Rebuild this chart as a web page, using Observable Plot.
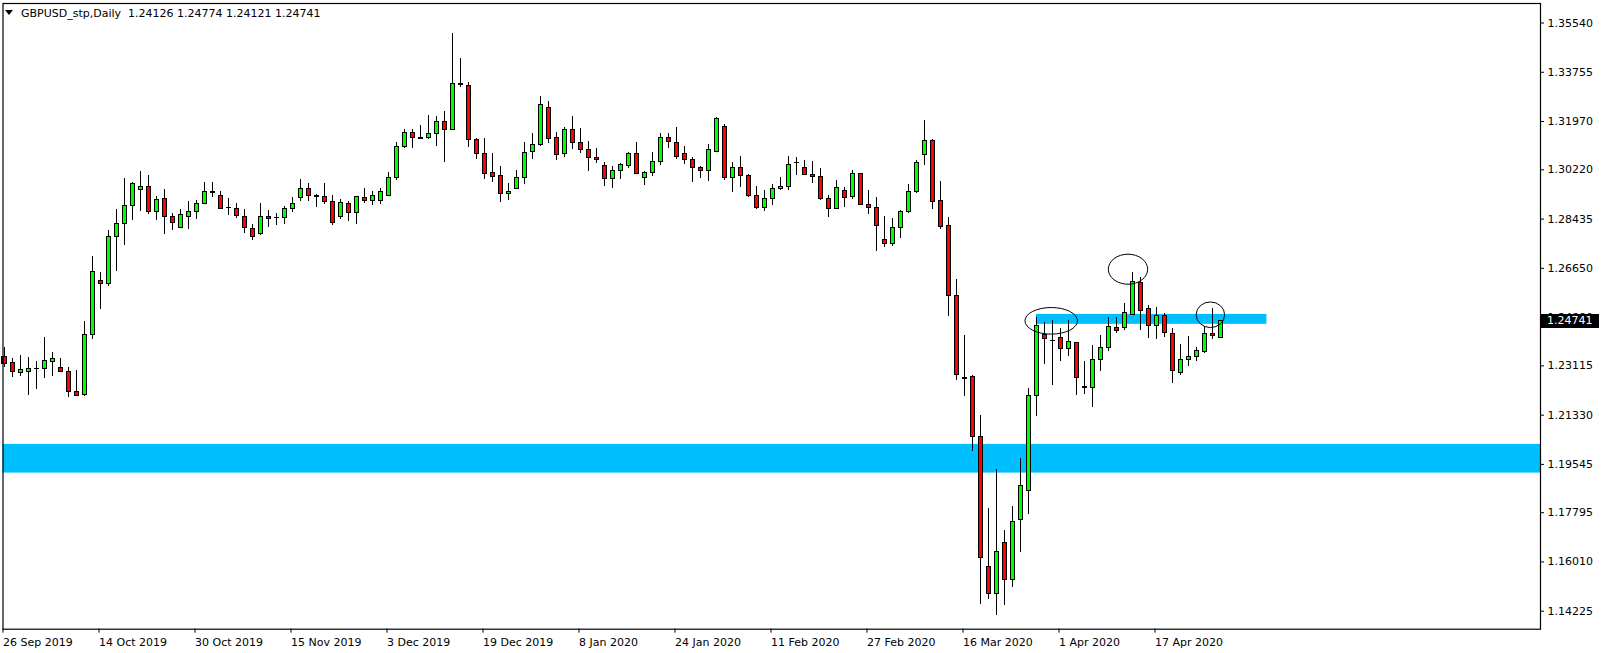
<!DOCTYPE html>
<html><head><meta charset="utf-8">
<script src="https://cdn.jsdelivr.net/npm/d3@7"></script>
<script src="https://cdn.jsdelivr.net/npm/@observablehq/plot@0.6"></script>
<style>html,body{margin:0;padding:0;background:#fff;overflow:hidden}#chart svg{display:block}</style>
</head><body><div id="chart"></div>
<script>
const symbolName = "GBPUSD_stp,Daily";
const lastQuote = [1.24126, 1.24774, 1.24121, 1.24741];

const open = [
1.2343,1.2323,1.2285,1.2290,1.2300,1.2301,1.2326,1.2305,1.2290,1.2218,
1.2205,1.2423,1.2620,1.2609,1.2779,1.2826,1.2892,1.2950,1.2960,1.2870,
1.2917,1.2852,1.2811,1.2852,1.2870,1.2899,1.2939,1.2928,1.2882,1.2881,
1.2852,1.2808,1.2789,1.2852,1.2846,1.2848,1.2879,1.2921,1.2953,1.2926,
1.2924,1.2906,1.2852,1.2899,1.2866,1.2921,1.2909,1.2908,1.2926,1.2992,
1.3104,1.3156,1.3136,1.3138,1.3152,1.3196,1.3167,1.3332,1.3326,1.3131,
1.3080,1.3011,1.3000,1.2935,1.2953,1.2993,1.3087,1.3113,1.3247,1.3138,
1.3080,1.3167,1.3120,1.3095,1.3066,1.3037,1.2989,1.3018,1.3037,1.3080,
1.2993,1.3011,1.3051,1.3138,1.3120,1.3080,1.3058,1.3029,1.3018,1.3087,
1.3178,1.2993,1.3029,1.3000,1.2928,1.2884,1.2917,1.2953,1.2960,1.3045,
1.3029,1.3004,1.2997,1.2917,1.2881,1.2946,1.2924,1.3008,1.2895,1.2884,
1.2768,1.2754,1.2812,1.2870,1.2942,1.3076,1.3127,1.2910,1.2819,1.2565,
1.2265,1.2272,1.2053,1.1583,1.1484,1.1671,1.1535,1.1752,1.1859,1.2203,
1.2425,1.2401,1.2413,1.2373,1.2395,1.2232,1.2232,1.2333,1.2377,1.2450,
1.2450,1.2497,1.2613,1.2518,1.2457,1.2493,1.2428,1.2286,1.2333,1.2344,
1.2362,1.2428,1.24126];

const high = [
1.2379,1.2337,1.2349,1.2341,1.2327,1.2413,1.2359,1.2337,1.2305,1.2295,
1.2472,1.2708,1.2649,1.2802,1.2878,1.2989,1.2977,1.3016,1.3001,1.2925,
1.2951,1.2863,1.2878,1.2907,1.2911,1.2976,1.2976,1.2942,1.2917,1.2899,
1.2877,1.2823,1.2900,1.2873,1.2863,1.2888,1.2921,1.2987,1.2972,1.2931,
1.2972,1.2928,1.2913,1.2906,1.2926,1.2953,1.2943,1.2955,1.3012,1.3121,
1.3168,1.3168,1.3183,1.3219,1.3215,1.3233,1.3516,1.3425,1.3337,1.3134,
1.3134,1.3081,1.3033,1.2971,1.3018,1.3120,1.3154,1.3288,1.3268,1.3158,
1.3174,1.3215,1.3172,1.3124,1.3098,1.3047,1.3033,1.3044,1.3084,1.3120,
1.3015,1.3084,1.3152,1.3152,1.3174,1.3105,1.3066,1.3033,1.3113,1.3210,
1.3185,1.3047,1.3069,1.3004,1.2961,1.2947,1.2968,1.2994,1.3069,1.3066,
1.3055,1.3051,1.3026,1.2928,1.2982,1.2957,1.3018,1.3009,1.2946,1.2921,
1.2852,1.2844,1.2873,1.2968,1.3055,1.3200,1.3131,1.2979,1.2848,1.2625,
1.2422,1.2278,1.2132,1.1795,1.1936,1.1715,1.1802,1.1977,1.2231,1.2488,
1.2467,1.2475,1.2446,1.2475,1.2396,1.2326,1.2384,1.2420,1.2486,1.2486,
1.2536,1.2649,1.2631,1.2529,1.2522,1.2500,1.2446,1.2388,1.2417,1.2377,
1.2453,1.2518,1.24774];

const low = [
1.2305,1.2270,1.2274,1.2204,1.2226,1.2265,1.2274,1.2286,1.2196,1.2199,
1.2202,1.2408,1.2516,1.2600,1.2653,1.2748,1.2838,1.2871,1.2860,1.2838,
1.2788,1.2802,1.2809,1.2807,1.2843,1.2895,1.2923,1.2877,1.2858,1.2847,
1.2792,1.2767,1.2785,1.2814,1.2821,1.2825,1.2868,1.2908,1.2908,1.2886,
1.2895,1.2821,1.2841,1.2836,1.2825,1.2899,1.2891,1.2897,1.2924,1.2982,
1.3100,1.3100,1.3133,1.3132,1.3108,1.3050,1.3165,1.3321,1.3102,1.3059,
1.2988,1.2977,1.2905,1.2910,1.2952,1.2968,1.3060,1.3105,1.3116,1.3055,
1.3065,1.3095,1.3080,1.3015,1.3044,1.2960,1.2955,1.2986,1.3026,1.3007,
1.2964,1.2997,1.3037,1.3098,1.3058,1.3040,1.2975,1.2989,1.2979,1.3084,
1.2982,1.2941,1.2957,1.2921,1.2880,1.2872,1.2894,1.2946,1.2946,1.3000,
1.3000,1.2971,1.2910,1.2848,1.2877,1.2886,1.2913,1.2894,1.2861,1.2725,
1.2739,1.2743,1.2772,1.2863,1.2935,1.3037,1.2879,1.2805,1.2492,1.2259,
1.2202,1.2002,1.1447,1.1466,1.1407,1.1443,1.1510,1.1636,1.1773,1.2129,
1.2318,1.2241,1.2328,1.2345,1.2205,1.2209,1.2162,1.2290,1.2362,1.2430,
1.2439,1.2493,1.2439,1.2410,1.2406,1.2415,1.2247,1.2276,1.2308,1.2326,
1.2355,1.2406,1.24121];

const close = [
1.2319,1.2290,1.2295,1.2301,1.2302,1.2330,1.2335,1.2290,1.2218,1.2203,
1.2424,1.2652,1.2609,1.2779,1.2826,1.2892,1.2971,1.2960,1.2870,1.2913,
1.2852,1.2830,1.2859,1.2870,1.2899,1.2942,1.2942,1.2881,1.2884,1.2854,
1.2810,1.2779,1.2852,1.2844,1.2848,1.2881,1.2899,1.2953,1.2928,1.2924,
1.2905,1.2829,1.2902,1.2866,1.2924,1.2910,1.2927,1.2943,1.2992,1.3105,
1.3156,1.3138,1.3134,1.3152,1.3196,1.3167,1.3334,1.3330,1.3131,1.3080,
1.3008,1.2995,1.2935,1.2942,1.2993,1.3084,1.3113,1.3258,1.3134,1.3076,
1.3167,1.3120,1.3095,1.3066,1.3058,1.2989,1.3018,1.3040,1.3080,1.3008,
1.3011,1.3051,1.3138,1.3124,1.3069,1.3058,1.3029,1.3018,1.3095,1.3207,
1.2993,1.3029,1.3000,1.2928,1.2884,1.2917,1.2953,1.2960,1.3040,1.3047,
1.3004,1.2997,1.2917,1.2881,1.2957,1.2921,1.3008,1.2895,1.2884,1.2819,
1.2754,1.2812,1.2870,1.2942,1.3047,1.3127,1.2906,1.2815,1.2565,1.2279,
1.2267,1.2053,1.1615,1.1484,1.1638,1.1535,1.1746,1.1877,1.2203,1.2457,
1.2409,1.2403,1.2373,1.2399,1.2268,1.2234,1.2333,1.2377,1.2453,1.2439,
1.2504,1.2616,1.2511,1.2457,1.2493,1.2431,1.2294,1.2333,1.2344,1.2366,
1.2428,1.2420,1.24741];

// date labels every 12 bars (bar index of the labelled day)
const dateTickBars = [0,12,24,36,48,60,72,84,96,108,120,132,144];
const dateLabels = ["26 Sep 2019","14 Oct 2019","30 Oct 2019","15 Nov 2019","3 Dec 2019",
  "19 Dec 2019","8 Jan 2020","24 Jan 2020","11 Feb 2020","27 Feb 2020","16 Mar 2020",
  "1 Apr 2020","17 Apr 2020"];
const priceTicks = [1.35540,1.33755,1.31970,1.30220,1.28435,1.26650,1.24880,
  1.23115,1.21330,1.19545,1.17795,1.16010,1.14225];

// drawn objects: rectangles (bar index span, price span) and ellipses (centre bar, centre price, radii)
const zoneBars = [[-20, 260], [129, 157.8]];
const zonePrices = [[1.1923, 1.2027], [1.2462, 1.2498]];
const ellipseBars = [130.9, 140.5, 150.8];
const ellipsePrices = [1.2473, 1.2660, 1.2495];
const ellipseRadiusBars = [3.28, 2.46, 1.78];
const ellipseRadiusPrices = [0.00482, 0.00544, 0.00464];

const bars = open.map((o, i) => ({i, o, h: high[i], l: low[i], c: close[i]}));
const zones = zoneBars.map((b, k) => ({x1: b[0], x2: b[1], y1: zonePrices[k][0], y2: zonePrices[k][1]}));
const ellipses = ellipseBars.map((b, k) => ({cx: b, cy: ellipsePrices[k], rx: ellipseRadiusBars[k], ry: ellipseRadiusPrices[k]}));
const tickLabel = new Map(dateTickBars.map((b, k) => [b, dateLabels[k]]));

const NS = "http://www.w3.org/2000/svg";
function el(doc, name, attrs) {
  const e = doc.createElementNS(NS, name);
  for (const k in attrs) e.setAttribute(k, attrs[k]);
  return e;
}

function ellipseMark(index, scales, values, dims, context) {
  const doc = (context && context.document) || document;
  const g = el(doc, "g", {fill: "none", stroke: "black", "stroke-width": 1});
  for (const e of ellipses) {
    const cx = scales.x(e.cx), cy = scales.y(e.cy);
    const rx = Math.abs(scales.x(e.cx + e.rx) - cx);
    const ry = Math.abs(scales.y(e.cy + e.ry) - cy);
    g.appendChild(el(doc, "ellipse", {cx, cy, rx, ry}));
  }
  return g;
}

function headerMark(index, scales, values, dims, context) {
  const doc = (context && context.document) || document;
  const g = el(doc, "g", {"text-anchor": "start"});
  const x0 = dims.marginLeft, y0 = dims.marginTop;
  g.appendChild(el(doc, "path", {d: `M${x0 + 2.5},${y0 + 7}h8l-4,5z`, fill: "black"}));
  const t = el(doc, "text", {x: x0 + 18.5, y: y0 + 10.5, dy: "0.35em", fill: "black",
    "font-size": 11, "text-anchor": "start"});
  t.setAttribute("xml:space", "preserve");
  t.style.whiteSpace = "pre";
  t.textContent = symbolName + "  " + lastQuote.map(v => v.toFixed(5)).join(" ");
  g.appendChild(t);
  return g;
}

function priceTagMark(index, scales, values, dims, context) {
  const doc = (context && context.document) || document;
  const g = el(doc, "g", {"text-anchor": "start"});
  const y = scales.y(lastQuote[3]);
  const x0 = dims.width - dims.marginRight;
  g.appendChild(el(doc, "rect", {x: x0 + 1, y: Math.round(y) - 7, width: 58, height: 14, fill: "black"}));
  const t = el(doc, "text", {x: x0 + 7, y: y, dy: "0.35em", fill: "white", "font-size": 11, "text-anchor": "start"});
  t.textContent = lastQuote[3].toFixed(5);
  g.appendChild(t);
  return g;
}

const chart = Plot.plot({
  width: 1604,
  height: 653,
  marginLeft: 2.5,
  marginRight: 64,
  marginTop: 3,
  marginBottom: 24.3,
  style: {fontFamily: "DejaVu Sans", fontSize: "11px", background: "white", color: "black", overflow: "visible"},
  x: {type: "linear", domain: [-0.1875, 192]},
  y: {type: "linear", domain: [1.13573, 1.36247]},
  color: {type: "identity"},
  marks: [
    Plot.rect(zones, {x1: "x1", x2: "x2", y1: "y1", y2: "y2", fill: "#00bfff", clip: true}),
    Plot.ruleX(bars, {x: "i", y1: "l", y2: "h", stroke: "black", strokeWidth: 1, shapeRendering: "crispEdges"}),
    Plot.rect(bars, {
      x1: d => d.i - 0.25, x2: d => d.i + 0.25, y1: "o", y2: "c",
      fill: d => d.c >= d.o ? "#00ff00" : "#ff0000",
      stroke: "black", strokeWidth: 1, shapeRendering: "crispEdges"
    }),
    ellipseMark,
    Plot.frame({stroke: "black", strokeWidth: 1.2}),
    Plot.axisX(dateTickBars, {anchor: "bottom", tickSize: 4, tickPadding: 5, textAnchor: "start",
      dx: -1.5, tickFormat: d => tickLabel.get(d), label: null, fontSize: 11}),
    Plot.axisY(priceTicks, {anchor: "right", tickSize: 3, tickPadding: 4,
      tickFormat: d => d.toFixed(5), label: null, fontSize: 11}),
    headerMark,
    priceTagMark
  ]
});
document.getElementById("chart").appendChild(chart);
</script>
</body></html>
